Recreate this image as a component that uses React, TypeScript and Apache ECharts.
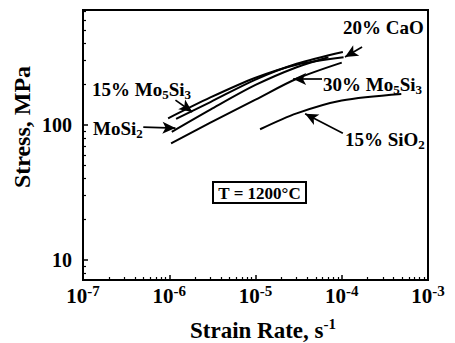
import React, { useEffect, useRef } from "react";
import * as echarts from "echarts";

// Axis ticks (decades)
const xDecades = [-7, -6, -5, -4, -3];
const yDecades = [1, 2];

// Curves: strain rate (s^-1) and stress (MPa)
const caoRate = [9.7e-7, 3e-6, 1e-5, 3e-5, 1.05e-4];
const caoStress = [112, 160, 224, 280, 318];
const mo15Rate = [1.2e-6, 3e-6, 1e-5, 3e-5, 1.03e-4];
const mo15Stress = [111, 148, 217, 284, 348];
const mosi2Rate = [1.07e-6, 3e-6, 1e-5, 3e-5, 7e-5];
const mosi2Stress = [89, 130, 198, 268, 318];
const mo30Rate = [1.05e-6, 3e-6, 1e-5, 3e-5, 1e-4];
const mo30Stress = [73, 104, 154, 220, 290];
const sio2Rate = [1.13e-5, 3e-5, 1e-4, 4.9e-4];
const sio2Stress = [93, 122, 152, 170];

// Annotation arrows: [tailRate, tailStress, tipRate, tipStress]
const arrowCaO = [1.72e-4, 378, 1.09e-4, 319];
const arrowMo30 = [5.9e-5, 219, 2.73e-5, 219];
const arrowSiO2 = [1.03e-4, 87, 3.76e-5, 121];
const arrowMo15 = [1.18e-6, 153, 1.85e-6, 125];
const arrowMoSi2 = [5.0e-7, 96.6, 1.18e-6, 95];

const L = Math.log10;
const FONT = "Liberation Serif";

function minorValues(fromExp: number, toExp: number, lo: number, hi: number) {
  const out: number[] = [];
  for (let d = fromExp; d < toExp; d++) {
    for (let m = 2; m <= 9; m++) {
      const v = L(m) + d;
      if (v > lo && v < hi) out.push(v);
    }
  }
  return out;
}

function mkSeries(rate: number[], stress: number[], arrow: number[]) {
  return {
    type: "line",
    data: rate.map((r, i) => [L(r), L(stress[i])]),
    symbol: "none",
    smooth: 0.3,
    lineStyle: { color: "#000", width: 2 },
    silent: true,
    markLine: {
      silent: true,
      symbol: ["none", "arrow"],
      symbolSize: [9, 13],
      label: { show: false },
      lineStyle: { color: "#000", width: 1.7, type: "solid" },
      itemStyle: { color: "#000" },
      data: [
        [
          { coord: [L(arrow[0]), L(arrow[1])] },
          { coord: [L(arrow[2]), L(arrow[3])] },
        ],
      ],
    },
  };
}

const YMIN = 0.852;
const YMAX = 2.852;

export default function App() {
  const ref = useRef<HTMLDivElement>(null);
  useEffect(() => {
    if (!ref.current) return;
    const chart = echarts.init(ref.current, undefined, { renderer: "svg" });
    const labelBase = { fontFamily: FONT, fontWeight: "bold", color: "#000" };
    const subStyle = { fontFamily: FONT, fontWeight: "bold", fontSize: 13, lineHeight: 13, verticalAlign: "bottom", color: "#000" };
    const normal = { fontFamily: FONT, fontWeight: "bold", fontSize: 19, lineHeight: 24, color: "#000" };
    chart.setOption({
      animation: false,
      grid: {
        left: 83,
        right: 27,
        top: 10,
        bottom: 63,
        show: true,
        borderColor: "#000",
        borderWidth: 2,
        backgroundColor: "transparent",
      },
      xAxis: [
        {
          type: "value",
          min: -7,
          max: -3,
          interval: 1,
          splitLine: { show: false },
          axisLine: { lineStyle: { color: "#000", width: 2 } },
          axisTick: { inside: true, length: 5, lineStyle: { color: "#000", width: 1.5 } },
          axisLabel: {
            margin: 3,
            formatter: (v: number) => `{b|10}{sup|${Math.round(v)}}`,
            rich: {
              b: { ...labelBase, fontSize: 21, lineHeight: 26 },
              sup: { ...labelBase, fontSize: 15, lineHeight: 15, verticalAlign: "top" },
            },
          },
        },
        {
          type: "value",
          min: -7,
          max: -3,
          position: "bottom",
          splitLine: { show: false },
          axisLine: { show: false },
          axisLabel: { show: false },
          axisTick: {
            inside: true,
            length: 3,
            customValues: minorValues(-7, -3, -7, -3),
            lineStyle: { color: "#000", width: 1.2 },
          },
        },
      ],
      yAxis: [
        {
          type: "value",
          min: YMIN,
          max: YMAX,
          splitLine: { show: false },
          axisLine: { lineStyle: { color: "#000", width: 2 } },
          axisTick: { inside: true, length: 5, customValues: yDecades, lineStyle: { color: "#000", width: 1.5 } },
          axisLabel: {
            customValues: yDecades,
            margin: 11,
            formatter: (v: number) => String(Math.round(Math.pow(10, v))),
            ...labelBase,
            fontSize: 20,
          },
        },
        {
          type: "value",
          min: YMIN,
          max: YMAX,
          position: "left",
          splitLine: { show: false },
          axisLine: { show: false },
          axisLabel: { show: false },
          axisTick: {
            inside: true,
            length: 3,
            customValues: minorValues(0, 3, YMIN, YMAX),
            lineStyle: { color: "#000", width: 1.2 },
          },
        },
      ],
      series: [
        mkSeries(caoRate, caoStress, arrowCaO),
        mkSeries(mo15Rate, mo15Stress, arrowMo15),
        mkSeries(mosi2Rate, mosi2Stress, arrowMoSi2),
        mkSeries(mo30Rate, mo30Stress, arrowMo30),
        mkSeries(sio2Rate, sio2Stress, arrowSiO2),
      ],
      graphic: [
        {
          type: "text",
          x: 22,
          y: 127,
          rotation: Math.PI / 2,
          style: { text: "Stress, MPa", ...labelBase, fontSize: 24, align: "center", verticalAlign: "middle" },
        },
        {
          type: "text",
          x: 263,
          y: 330,
          style: {
            text: "{b|Strain Rate, s}{sup|-1}",
            align: "center",
            verticalAlign: "middle",
            rich: {
              b: { ...labelBase, fontSize: 23, lineHeight: 28 },
              sup: { ...labelBase, fontSize: 15, lineHeight: 15, verticalAlign: "top" },
            },
          },
        },
        {
          type: "text",
          x: 343,
          y: 27,
          style: { text: "20% CaO", ...labelBase, fontSize: 19, verticalAlign: "middle" },
        },
        {
          type: "text",
          x: 323,
          y: 84,
          style: {
            text: "{n|30% Mo}{s|5}{n|Si}{s|3}",
            verticalAlign: "middle",
            rich: { n: normal, s: subStyle },
          },
        },
        {
          type: "text",
          x: 345,
          y: 139,
          style: {
            text: "{n|15% SiO}{s|2}",
            verticalAlign: "middle",
            rich: { n: normal, s: subStyle },
          },
        },
        {
          type: "text",
          x: 92,
          y: 89,
          style: {
            text: "{n|15% Mo}{s|5}{n|Si}{s|3}",
            verticalAlign: "middle",
            rich: { n: normal, s: subStyle },
          },
        },
        {
          type: "text",
          x: 93,
          y: 128,
          style: {
            text: "{n|MoSi}{s|2}",
            verticalAlign: "middle",
            rich: { n: normal, s: subStyle },
          },
        },
        {
          type: "rect",
          shape: { x: 213, y: 182, width: 93, height: 21 },
          style: { fill: "#fff", stroke: "#000", lineWidth: 2 },
        },
        {
          type: "text",
          x: 259.5,
          y: 193,
          style: { text: "T = 1200°C", ...labelBase, fontSize: 17, align: "center", verticalAlign: "middle" },
        },
      ],
    });
    return () => chart.dispose();
  }, []);
  return <div ref={ref} style={{ width: 455, height: 343, position: "absolute", left: 0, top: 0 }} />;
}
